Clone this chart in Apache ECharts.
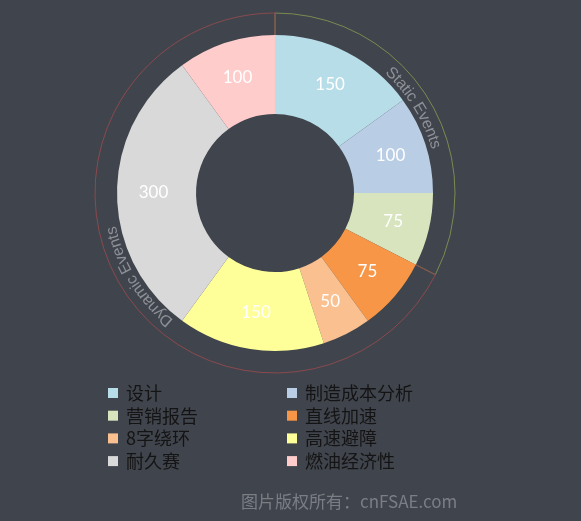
<!DOCTYPE html>
<html>
<head>
<meta charset="utf-8">
<script src="https://cdn.jsdelivr.net/npm/echarts@6/dist/echarts.min.js"></script>
<style>
html,body{margin:0;padding:0;background:#40444c;}
#main{width:581px;height:521px;}
</style>
</head>
<body>
<div id="main"></div>
<script>
var categories = ['设计','制造成本分析','营销报告','直线加速','8字绕环','高速避障','耐久赛','燃油经济性'];
var values = [150,100,75,75,50,150,300,100];
var colors = ['#b7dde8','#b9cde5','#d7e4bd','#f79646','#fac090','#ffff99','#d9d9d9','#ffcccc'];
var groupNames = ['Static Events','Dynamic Events'];
var groupMembers = [3, 5]; // number of categories in each group
var groupColors = ['#7c8a52','#8a4a4e'];
var legendLeft = ['设计','营销报告','8字绕环','耐久赛'];
var legendRight = ['制造成本分析','直线加速','高速避障','燃油经济性'];
var watermark = '图片版权所有：cnFSAE.com';

var CX = 275, CY = 193, R0 = 79, R1 = 158, RING = 180, TEXT_R = 167;
var arcFont = '16px "Liberation Sans", Arial, sans-serif';

// group sums from data
var groupValues = [];
var idx = 0;
groupMembers.forEach(function (n) {
  var s = 0;
  for (var i = 0; i < n; i++) s += values[idx++];
  groupValues.push(s);
});
var total = groupValues.reduce(function (a, b) { return a + b; }, 0);

// character placement along arcs
var ctx = document.createElement('canvas').getContext('2d');
ctx.font = arcFont;
var arcChars = [];
var startVal = 0;
groupNames.forEach(function (name, g) {
  var mid = (startVal + groupValues[g] / 2) / total * 2 * Math.PI;
  var widths = name.split('').map(function (c) { return ctx.measureText(c).width; });
  var tw = widths.reduce(function (a, b) { return a + b; }, 0);
  var a0 = mid - tw / TEXT_R / 2;
  var cum = 0;
  name.split('').forEach(function (c, i) {
    var ang = a0 + (cum + widths[i] / 2) / TEXT_R;
    cum += widths[i];
    arcChars.push([ang, c]);
  });
  startVal += groupValues[g];
});

var legendText = { color: '#141414', fontSize: 18, lineHeight: 20, padding: [0, 0, 0, 3], fontFamily: '"Noto Sans CJK SC", sans-serif' };

var chart = echarts.init(document.getElementById('main'));
chart.setOption({
  backgroundColor: '#40444c',
  animation: false,
  title: {
    text: watermark,
    left: 236, top: 488,
    textStyle: { color: '#7b7e85', fontSize: 17, fontWeight: 'normal', fontFamily: '"Noto Sans CJK SC", sans-serif' }
  },
  legend: [{
    data: legendLeft, orient: 'vertical', left: 108, top: 383,
    icon: 'rect', itemWidth: 10, itemHeight: 10, itemGap: 2.7, selectedMode: false, padding: 0,
    textStyle: legendText
  }, {
    data: legendRight, orient: 'vertical', left: 287, top: 383,
    icon: 'rect', itemWidth: 10, itemHeight: 10, itemGap: 2.7, selectedMode: false, padding: 0,
    textStyle: legendText
  }],
  series: [{
    type: 'pie', z: 1, silent: true,
    center: [CX, CY], radius: [150, RING], startAngle: 90, clockwise: true,
    label: { show: false }, labelLine: { show: false },
    data: groupNames.map(function (n, i) {
      return { name: n, value: groupValues[i], itemStyle: { color: 'rgba(0,0,0,0)', borderColor: groupColors[i], borderWidth: 1 } };
    })
  }, {
    type: 'pie', z: 2, silent: true,
    center: [CX, CY], radius: [R0, R1], startAngle: 90, clockwise: true,
    label: { show: true, position: 'inside', color: '#ffffff', fontSize: 17, fontFamily: 'Lato, "Open Sans", sans-serif', formatter: '{c}' },
    data: categories.map(function (c, i) {
      return { name: c, value: values[i], itemStyle: { color: colors[i] } };
    })
  }, {
    type: 'custom', z: 3, silent: true, coordinateSystem: 'none',
    data: arcChars,
    renderItem: function (params, api) {
      var ang = api.value(0);
      var ch = arcChars[params.dataIndex][1];
      return {
        type: 'text',
        x: CX + TEXT_R * Math.sin(ang),
        y: CY - TEXT_R * Math.cos(ang),
        rotation: -ang,
        style: { text: ch, font: arcFont, fill: '#8e9197', align: 'center', verticalAlign: 'middle' }
      };
    }
  }]
});
</script>
</body>
</html>
